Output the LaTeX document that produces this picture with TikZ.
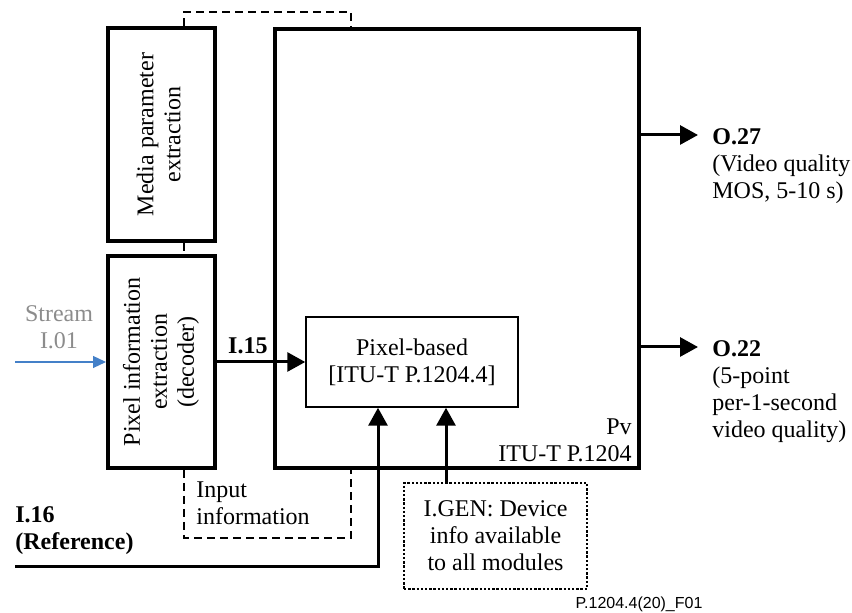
\documentclass[tikz,border=0pt]{standalone}
\usepackage{fontspec}
\setmainfont{Liberation Serif}
\setsansfont{Liberation Sans}
\usepackage{graphicx}
\usepackage{tikz}
\usetikzlibrary{arrows.meta,positioning}
\definecolor{streamgray}{RGB}{140,140,140}
\definecolor{streamblue}{RGB}{68,128,200}
\newcommand\figfont{\fontsize{12}{13.5}\selectfont}
\tikzset{
modbox/.style={draw,line width=2pt,inner sep=0pt},
thinbox/.style={draw,line width=0.75pt,inner sep=0pt,align=center},
dotbox/.style={draw,line width=0.6pt,dash pattern=on 1.2pt off 0.9pt,inner sep=0pt,align=center},
dashline/.style={line width=0.6pt,dash pattern=on 4pt off 2.5pt},
arr/.style={-{Triangle[length=9pt,width=9.5pt]},line width=1.5pt},
bluearr/.style={-{Triangle[length=6.5pt,width=6pt]},line width=0.6pt,color=streamblue},
boldtext/.style={font=\figfont\bfseries},
}
\tikzstyle{every node}=[font=\figfont]

\begin{document}
\begin{tikzpicture}[
            x=0.5pt,y=-0.5pt,
            textleft/.style={anchor=west,align=left,inner sep=0pt}
        ]
        \useasboundingbox (0,0) rectangle (852,613);

        % modules
        \node[modbox,minimum width=53.5pt,minimum height=106.5pt] (media) at (161.5,134.5)
        {\rotatebox{90}{\begin{tabular}{@{}c@{}}Media parameter\\extraction\end{tabular}}};
        \node[modbox,minimum width=53.5pt,minimum height=106pt] (pix) at (161.5,362)
        {\rotatebox{90}{\begin{tabular}{@{}c@{}}Pixel information\\extraction\\(decoder)\end{tabular}}};
        \node[modbox,minimum width=182pt,minimum height=219.5pt] (pv) at (457,248.5) {};
        \node[thinbox,minimum width=106pt,minimum height=45pt] (pb) at (412,362)
        {Pixel-based\\{[ITU-T P.1204.4]}};
        \node[dotbox,minimum width=91.5pt,minimum height=53pt] (gen) at (495.5,536)
        {I.GEN: Device\\info available\\to all modules};

        % labels
        \node[textleft] (inputinfo) at (196,503) {Input\\information};
        \node[anchor=south east,align=right,inner sep=0pt] (pvlabel) at (632,462) {Pv\\ITU-T P.1204};
        \node[align=center,text=streamgray] (stream) at (59,327) {Stream\\I.01};
        \node[textleft,boldtext] (reflabel) at (15,531) {I.16\\(Reference)};
        \node[anchor=north west,align=left,inner sep=0pt] (o27) at (712,128)
        {\textbf{O.27}\\(Video quality\\MOS, 5-10 s)};
        \node[anchor=north west,align=left,inner sep=0pt] (o22) at (712,340)
        {\textbf{O.22}\\(5-point\\per-1-second\\video quality)};
        \node[font=\sffamily\fontsize{8}{9.6}\selectfont] (figid) at (639,604) {P.1204.4(20)\_F01};

        \coordinate (dl) at (184,0);
        \coordinate (dr) at (351,0);
        \coordinate (streamin) at (15,362);
        \coordinate (refin) at (15,567);
        \coordinate (refx) at (378,0);
        \coordinate (genx) at (446,0);
        \coordinate (o27end) at (698,135);
        \coordinate (o22end) at (698,347);

        % input information
        \draw[dashline] (media.north -| dl) -- ++(0,-14) -| (pv.north -| dr);
        \draw[dashline] (media.south -| dl) -- (pix.north -| dl);
        \draw[dashline] (pix.south -| dl) -- ++(0,68) -| (pv.south -| dr);

        % signals
        \draw[bluearr] (streamin) -- (pix.west);
        \draw[arr] (pix.east) -- (pb.west) node[pos=.35,above,boldtext] {I.15};
        \draw[arr] (refin) -| (pb.south -| refx);
        \draw[arr] (gen.north -| genx) -- (pb.south -| genx);
        \draw[arr] (o27end -| pv.east) -- (o27end);
        \draw[arr] (o22end -| pv.east) -- (o22end);
    \end{tikzpicture}
\end{document}
